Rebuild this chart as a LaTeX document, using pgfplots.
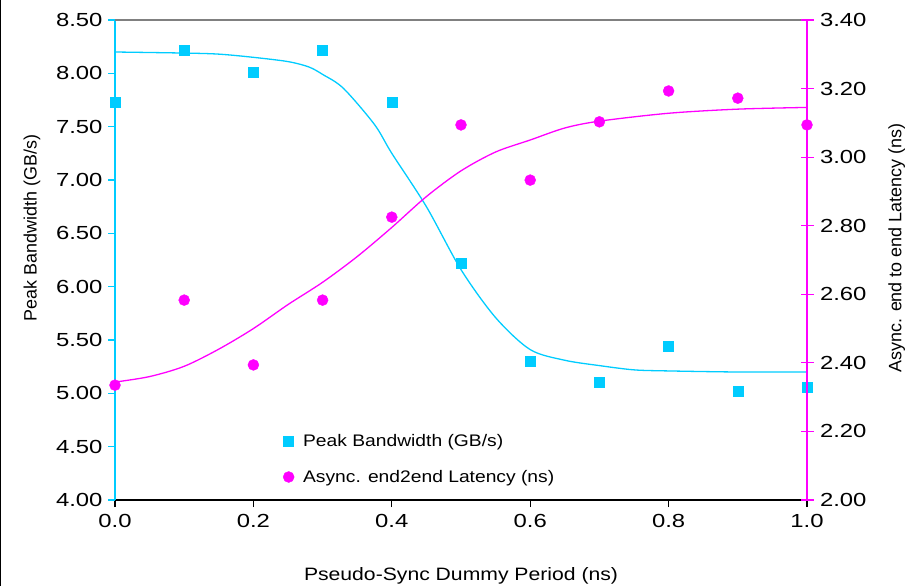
\documentclass[border=0pt]{standalone}
\usepackage{pgfplots}
\pgfplotsset{compat=1.18}
\usepackage{fontspec}
\setmainfont{Liberation Sans}
\newfontfamily\widefont{Liberation Sans}[FakeStretch=1.26]
\newfontfamily\legfont{Liberation Sans}[FakeStretch=1.15]
\newfontfamily\xlabfont{Liberation Sans}[FakeStretch=1.18]
\definecolor{bwc}{RGB}{0,204,255}
\definecolor{latc}{RGB}{255,0,255}
\begin{document}
\begin{tikzpicture}
\pgfplotsset{
  every axis/.append style={
    width=692bp, height=480bp, scale only axis,
    xmin=0, xmax=1, clip=false,
    /pgf/number format/assume math mode=true,
    tick label style={font=\widefont\fontsize{19}{21}\selectfont},
    label style={font=\fontsize{18}{20}\selectfont},
  }
}
\begin{axis}[
  name=ax,
  ymin=4, ymax=8.5,
  axis x line*=bottom,
  axis y line*=left,
  xtick={0,0.2,0.4,0.6,0.8,1.0},
  ytick={4,4.5,5,5.5,6,6.5,7,7.5,8,8.5},
  xticklabel style={/pgf/number format/fixed,/pgf/number format/precision=1,/pgf/number format/fixed zerofill, yshift=-4bp},
  yticklabel style={/pgf/number format/fixed,/pgf/number format/precision=2,/pgf/number format/fixed zerofill, xshift=-2bp},
  x axis line style={black, line width=1.6bp, -},
  y axis line style={bwc, line width=1.6bp, -},
  xtick style={black, line width=1.2bp},
  ytick style={bwc, line width=1.2bp},
  tick align=outside,
  major tick length=7bp,
  xlabel={Pseudo-Sync Dummy Period (ns)},
  ylabel={Peak Bandwidth (GB/s)},
  xlabel style={yshift=-33bp, font=\xlabfont\fontsize{18}{20}\selectfont},
  ylabel style={at={(ticklabel cs:0.567)}, yshift=9bp},
]
\draw[gray, line width=1.2bp] (rel axis cs:0,1) -- (rel axis cs:1,1);
\addplot[bwc, line width=1.3bp, smooth, forget plot] coordinates {
(0,8.20) (0.1,8.19) (0.15,8.18) (0.2,8.15) (0.25,8.11) (0.28,8.06) (0.3,7.99) (0.33,7.86) (0.375,7.52) (0.4,7.25) (0.45,6.75) (0.5,6.16) (0.55,5.71) (0.6,5.41) (0.65,5.31) (0.7,5.26) (0.75,5.22) (0.8,5.21) (0.9,5.20) (1.0,5.20)};
\addplot[only marks, mark=square*, mark size=5bp, color=bwc] coordinates {
(0,7.73) (0.1,8.22) (0.2,8.01) (0.3,8.22) (0.4,7.73) (0.5,6.22) (0.6,5.30) (0.7,5.10) (0.8,5.44) (0.9,5.02) (1.0,5.06)};
\end{axis}
\begin{axis}[
  ymin=2, ymax=3.4,
  axis x line=none,
  axis y line*=right,
  ytick={2,2.2,2.4,2.6,2.8,3.0,3.2,3.4},
  yticklabel style={/pgf/number format/fixed,/pgf/number format/precision=2,/pgf/number format/fixed zerofill, xshift=3bp},
  y axis line style={latc, line width=1.6bp, -},
  ytick style={latc, line width=1.2bp},
  tick align=center,
  major tick length=13bp,
  ylabel={Async. end to end Latency (ns)},
  ylabel style={at={(ticklabel cs:0.525)}, yshift=-15bp},
  legend style={draw=none, fill=none, at={(0.2384,0.085)}, anchor=west,
    font=\legfont\fontsize{16.8}{19}\selectfont, row sep=18bp,
    /tikz/every odd column/.append style={column sep=7bp}},
  legend cell align=left,
]
\addlegendimage{only marks, mark=square*, mark size=5bp, color=bwc}
\addlegendentry{Peak Bandwidth (GB/s)}
\addplot[latc, line width=1.3bp, smooth, forget plot] coordinates {
(0,2.344) (0.05,2.36) (0.1,2.39) (0.15,2.44) (0.2,2.50) (0.25,2.57) (0.3,2.635) (0.35,2.71) (0.4,2.795) (0.45,2.885) (0.5,2.96) (0.55,3.015) (0.6,3.05) (0.65,3.085) (0.7,3.105) (0.8,3.128) (0.9,3.14) (1.0,3.145)};
\addplot[only marks, mark=*, mark size=5.5bp, color=latc] coordinates {
(0,2.335) (0.1,2.583) (0.2,2.394) (0.3,2.583) (0.4,2.825) (0.5,3.094) (0.6,2.933) (0.7,3.103) (0.8,3.193) (0.9,3.172) (1.0,3.094)};
\addlegendentry{Async. end2end Latency (ns)}
\end{axis}
\path[use as bounding box] ([xshift=-115bp,yshift=-86bp]ax.south west) rectangle ([xshift=109bp,yshift=20bp]ax.north east);
\draw[black, line width=1.5bp] ([xshift=-114.25bp,yshift=-86bp]ax.south west) -- ([xshift=-114.25bp,yshift=20bp]ax.north west);
\end{tikzpicture}
\end{document}
